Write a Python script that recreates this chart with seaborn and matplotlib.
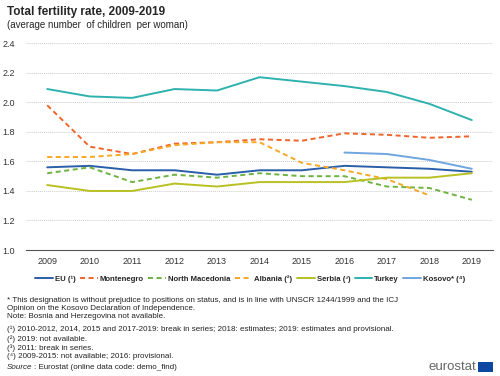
import numpy as np
import pandas as pd
import matplotlib.pyplot as plt
import seaborn as sns
from matplotlib.patches import Rectangle

sns.set_style('white')
plt.rcParams['font.family'] = ['Liberation Sans', 'DejaVu Sans']

# 数据
years = list(range(2009, 2020))
eu = [1.56, 1.57, 1.54, 1.54, 1.51, 1.54, 1.54, 1.57, 1.56, 1.55, 1.53]
montenegro = [1.98, 1.70, 1.65, 1.72, 1.73, 1.75, 1.74, 1.79, 1.78, 1.76, 1.77]
north_macedonia = [1.52, 1.56, 1.46, 1.51, 1.49, 1.52, 1.50, 1.50, 1.43, 1.42, 1.34]
albania = [1.63, 1.63, 1.65, 1.71, 1.73, 1.73, 1.59, 1.54, 1.48, 1.37, np.nan]
serbia = [1.44, 1.40, 1.40, 1.45, 1.43, 1.46, 1.46, 1.46, 1.49, 1.49, 1.52]
turkey = [2.09, 2.04, 2.03, 2.09, 2.08, 2.17, 2.14, 2.11, 2.07, 1.99, 1.88]
kosovo = [np.nan] * 7 + [1.66, 1.65, 1.61, 1.55]

series = [
    ('EU (¹)', eu, '#2a5ea8', False),
    ('Montenegro', montenegro, '#f0642a', True),
    ('North Macedonia', north_macedonia, '#6cb33f', True),
    ('Albania (²)', albania, '#f9a825', True),
    ('Serbia (³)', serbia, '#b8c022', False),
    ('Turkey', turkey, '#2fb2ae', False),
    ('Kosovo* (⁴)', kosovo, '#6fa6df', False),
]

fig = plt.figure(figsize=(5, 3.76), dpi=100)
ax = fig.add_axes([0.052, 0.335, 0.934, 0.55])

for name, vals, color, dashed in series:
    df = pd.DataFrame({'year': years, 'value': vals}).dropna()
    sns.lineplot(x='year', y='value', data=df, ax=ax, color=color, lw=1.4,
                 linestyle=(0, (2.6, 1.8)) if dashed else '-', label=name)

ax.set_xlim(2008.5, 2019.5)
ax.set_ylim(1.0, 2.4)
ax.set_yticks(np.arange(1.0, 2.41, 0.2))
ax.set_yticklabels([f'{v:.1f}' for v in np.arange(1.0, 2.41, 0.2)], fontsize=6.5, color='#333333')
ax.set_xticks(years)
ax.set_xticklabels([str(y) for y in years], fontsize=6.5, color='#333333')
ax.set_xticks(np.arange(2008.5, 2019.6, 1), minor=True)
ax.tick_params(axis='x', which='major', length=0, pad=5)
ax.tick_params(axis='x', which='minor', length=4, color='#555555', width=0.8)
ax.tick_params(axis='y', length=0, pad=8)
ax.yaxis.grid(True, linestyle=(0, (1, 1)), color='#cccccc', lw=0.7)
for s in ['left', 'right', 'top']:
    ax.spines[s].set_visible(False)
ax.spines['bottom'].set_color('#555555')
ax.set_xlabel('')
ax.set_ylabel('')

leg = ax.legend(loc='center', bbox_to_anchor=(0.48, -0.14), ncol=7, frameon=False,
                fontsize=5.6, handlelength=2.3, columnspacing=0.55, handletextpad=0.25)
for t in leg.get_texts():
    t.set_fontweight('bold')

fig.text(0.014, 0.967, 'Total fertility rate, 2009-2019', fontsize=8.5, fontweight='bold', va='center')
fig.text(0.014, 0.933, '(average number  of children  per woman)', fontsize=7, va='center')

notes = [
    (0.202, '* This designation is without prejudice to positions on status, and is in line with UNSCR 1244/1999 and the ICJ'),
    (0.180, 'Opinion on the Kosovo Declaration of Independence.'),
    (0.157, 'Note: Bosnia and Herzegovina not available.'),
    (0.125, '(¹) 2010-2012, 2014, 2015 and 2017-2019: break in series; 2018: estimates; 2019: estimates and provisional.'),
    (0.099, '(²) 2019: not available.'),
    (0.075, '(³) 2011: break in series.'),
    (0.051, '(⁴) 2009-2015: not available; 2016: provisional.'),
]
for y, t in notes:
    fig.text(0.014, y, t, fontsize=5.8, color='#222222', va='center')
fig.text(0.014, 0.022, 'Source', fontsize=5.8, style='italic', color='#222222', va='center')
fig.text(0.069, 0.022, ': Eurostat (online data code: demo_find)', fontsize=5.8, color='#222222', va='center')

fig.text(0.953, 0.024, 'eurostat', fontsize=9.5, color='#666666', ha='right', va='center')
fig.patches.append(Rectangle((0.956, 0.011), 0.03, 0.027, transform=fig.transFigure,
                             facecolor='#0e47a1', edgecolor='none'))

fig.savefig('out.png', dpi=100)
